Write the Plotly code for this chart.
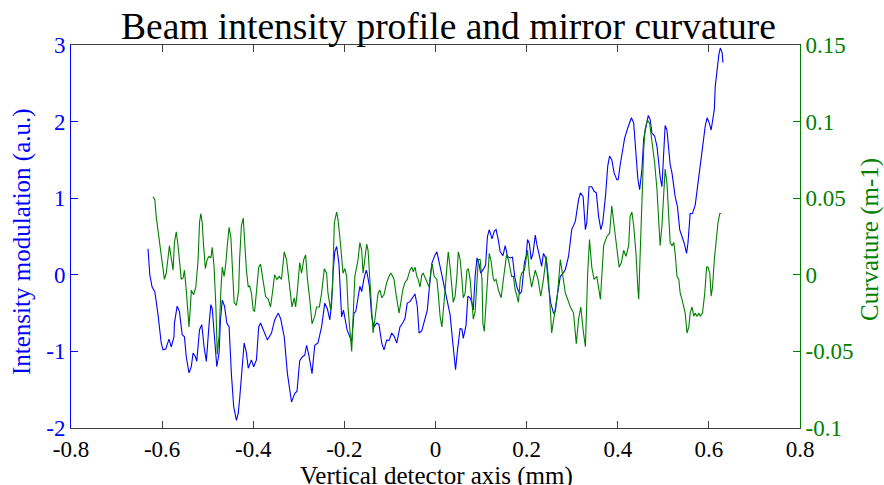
import plotly.graph_objects as go

# Blue series: intensity modulation (a.u.) vs vertical detector axis (mm)
blue_x = [-0.631,-0.627,-0.622,-0.616,-0.609,-0.602,-0.598,-0.592,-0.585,-0.580,-0.574,-0.573,-0.567,-0.562,-0.556,-0.551,-0.547,-0.541,-0.536,-0.532,
          -0.527,-0.524,-0.518,-0.513,-0.508,-0.503,-0.497,-0.493,-0.490,-0.485,-0.480,-0.475,-0.472,-0.468,-0.463,-0.458,-0.453,-0.448,-0.443,-0.437,
          -0.433,-0.430,-0.426,-0.420,-0.415,-0.411,-0.404,-0.399,-0.393,-0.388,-0.384,-0.376,-0.369,-0.360,-0.353,-0.345,-0.340,-0.332,-0.325,-0.316,
          -0.309,-0.304,-0.298,-0.292,-0.287,-0.283,-0.278,-0.271,-0.265,-0.258,-0.250,-0.243,-0.237,-0.232,-0.228,-0.225,-0.221,-0.217,-0.212,-0.209,
          -0.206,-0.202,-0.199,-0.194,-0.188,-0.184,-0.179,-0.175,-0.170,-0.166,-0.162,-0.157,-0.152,-0.150,-0.145,-0.140,-0.135,-0.129,-0.124,-0.118,
          -0.113,-0.107,-0.102,-0.096,-0.091,-0.085,-0.078,-0.072,-0.067,-0.062,-0.056,-0.050,-0.045,-0.040,-0.036,-0.030,-0.023,-0.018,-0.014,-0.008,
          -0.001,0.003,0.010,0.017,0.025,0.032,0.037,0.041,0.044,0.048,0.054,0.058,0.061,0.067,0.071,0.076,0.080,0.083,0.087,0.091,
          0.096,0.099,0.105,0.110,0.114,0.118,0.124,0.129,0.133,0.138,0.142,0.148,0.153,0.158,0.164,0.169,0.174,0.179,0.185,0.189,
          0.195,0.199,0.202,0.206,0.210,0.214,0.219,0.222,0.228,0.233,0.237,0.243,0.248,0.253,0.259,0.263,0.268,0.274,0.280,0.285,
          0.292,0.299,0.307,0.314,0.318,0.324,0.329,0.332,0.337,0.343,0.348,0.353,0.358,0.363,0.367,0.373,0.378,0.382,0.387,0.392,
          0.398,0.401,0.405,0.409,0.415,0.421,0.425,0.430,0.435,0.440,0.444,0.448,0.453,0.457,0.462,0.467,0.471,0.475,0.481,0.486,
          0.490,0.493,0.497,0.501,0.504,0.508,0.512,0.515,0.519,0.523,0.526,0.531,0.536,0.541,0.546,0.551,0.554,0.559,0.564,0.570,
          0.576,0.581,0.586,0.592,0.596,0.601,0.605,0.608,0.612,0.614,0.618,0.622,0.625,0.629,0.631]
blue_y = [0.34,0.00,-0.16,-0.22,-0.52,-0.89,-0.98,-0.97,-0.84,-0.94,-0.81,-0.63,-0.41,-0.48,-0.78,-0.81,-1.07,-1.28,-1.20,-1.02,
          -1.07,-1.13,-0.72,-0.65,-0.94,-1.13,-0.65,-0.39,-0.44,-0.81,-1.20,-1.02,-0.59,-0.33,-0.41,-0.63,-0.68,-1.29,-1.72,-1.90,
          -1.81,-1.63,-1.29,-0.89,-1.02,-1.22,-1.11,-1.20,-1.11,-0.68,-0.63,-0.76,-0.85,-0.76,-0.59,-0.50,-0.57,-0.81,-1.29,-1.66,
          -1.55,-1.52,-1.12,-1.07,-1.05,-0.92,-1.05,-1.29,-0.92,-0.89,-0.68,-0.37,-0.45,-0.59,-0.37,0.02,0.30,0.37,0.15,-0.20,
          -0.55,-0.46,-0.55,-0.72,-0.81,-0.87,-0.50,-0.48,-0.30,-0.15,-0.22,-0.05,0.06,0.02,-0.15,-0.55,-0.68,-0.63,-0.65,-0.89,
          -0.98,-0.85,-0.86,-0.76,-0.80,-0.89,-0.68,-0.63,-0.57,-0.37,-0.35,-0.30,-0.25,-0.41,-0.76,-0.73,-0.59,-0.46,-0.20,0.15,
          0.26,0.30,0.11,-0.09,-0.28,-0.52,-0.83,-1.11,-1.24,-1.00,-0.70,-0.71,-0.83,-0.66,-0.28,-0.30,-0.37,-0.46,-0.02,0.22,
          0.13,0.02,0.07,0.13,0.50,0.59,0.47,0.57,0.59,0.45,0.30,0.25,0.38,0.24,0.22,0.23,-0.03,-0.17,-0.25,-0.22,
          0.15,0.25,0.46,0.41,0.20,0.28,0.52,0.41,0.24,0.11,0.28,0.20,-0.15,-0.37,-0.50,-0.48,-0.24,-0.02,0.02,0.07,
          0.24,0.59,0.70,0.98,1.07,1.02,0.59,0.68,1.15,1.15,1.09,1.07,0.76,0.59,0.68,1.02,1.42,1.55,1.50,1.33,
          1.24,1.24,1.42,1.59,1.78,1.90,1.98,2.05,1.98,1.63,1.26,1.11,1.37,1.78,1.94,2.08,2.03,1.85,1.81,1.68,
          1.46,1.28,1.15,1.55,1.95,1.89,1.68,1.44,1.33,1.15,1.02,0.89,0.59,0.50,0.41,0.28,0.41,0.80,0.80,0.91,
          1.20,1.42,1.63,1.94,2.05,1.98,1.89,2.03,2.16,2.46,2.72,2.88,2.96,2.90,2.77]

# Green series: mirror curvature (m-1)
green_x = [-0.620,-0.616,-0.613,-0.608,-0.603,-0.598,-0.595,-0.591,-0.587,-0.584,-0.580,-0.576,-0.573,-0.569,-0.565,-0.562,-0.558,-0.554,-0.551,-0.547,
           -0.543,-0.541,-0.538,-0.536,-0.531,-0.526,-0.521,-0.518,-0.515,-0.512,-0.509,-0.505,-0.501,-0.497,-0.493,-0.490,-0.486,-0.482,-0.479,-0.475,
           -0.471,-0.468,-0.464,-0.460,-0.457,-0.453,-0.449,-0.446,-0.442,-0.437,-0.432,-0.430,-0.426,-0.422,-0.419,-0.415,-0.411,-0.408,-0.404,-0.400,
           -0.397,-0.393,-0.388,-0.384,-0.378,-0.373,-0.367,-0.362,-0.358,-0.353,-0.348,-0.343,-0.338,-0.332,-0.327,-0.324,-0.320,-0.315,-0.310,-0.307,
           -0.303,-0.298,-0.294,-0.289,-0.285,-0.281,-0.276,-0.271,-0.265,-0.261,-0.255,-0.250,-0.244,-0.239,-0.236,-0.230,-0.226,-0.222,-0.217,-0.214,
           -0.210,-0.206,-0.203,-0.199,-0.195,-0.192,-0.188,-0.184,-0.181,-0.177,-0.173,-0.170,-0.166,-0.162,-0.159,-0.155,-0.151,-0.148,-0.144,-0.140,
           -0.137,-0.133,-0.129,-0.126,-0.122,-0.118,-0.113,-0.107,-0.102,-0.098,-0.094,-0.091,-0.087,-0.083,-0.080,-0.076,-0.072,-0.067,-0.062,-0.056,
           -0.052,-0.049,-0.045,-0.041,-0.038,-0.034,-0.030,-0.027,-0.023,-0.018,-0.014,-0.010,-0.007,-0.003,0.003,0.006,0.010,0.014,0.017,0.021,
           0.025,0.028,0.032,0.036,0.039,0.043,0.047,0.050,0.054,0.058,0.061,0.065,0.069,0.072,0.076,0.080,0.083,0.087,0.091,0.094,
           0.098,0.102,0.104,0.107,0.110,0.114,0.118,0.122,0.126,0.129,0.133,0.138,0.144,0.149,0.153,0.156,0.160,0.164,0.167,0.171,
           0.175,0.178,0.182,0.186,0.189,0.195,0.202,0.206,0.211,0.219,0.225,0.231,0.237,0.243,0.248,0.255,0.261,0.268,0.274,0.280,
           0.285,0.290,0.296,0.303,0.309,0.314,0.319,0.324,0.329,0.334,0.338,0.343,0.348,0.354,0.362,0.369,0.376,0.382,0.387,0.392,
           0.398,0.403,0.408,0.413,0.418,0.424,0.427,0.431,0.435,0.440,0.444,0.446,0.449,0.453,0.457,0.460,0.465,0.470,0.475,0.481,
           0.486,0.490,0.493,0.497,0.501,0.504,0.508,0.512,0.515,0.519,0.523,0.526,0.530,0.534,0.537,0.541,0.545,0.548,0.552,0.556,
           0.559,0.563,0.567,0.570,0.574,0.578,0.581,0.586,0.591,0.595,0.598,0.602,0.605,0.608,0.612,0.616,0.620,0.624,0.627]
green_y = [0.051,0.049,0.038,0.027,0.014,0.005,-0.003,0.001,0.012,0.019,0.011,0.003,0.021,0.028,0.019,0.008,-0.003,-0.002,0.003,-0.010,
           -0.029,-0.034,-0.021,-0.010,-0.013,-0.008,0.010,0.034,0.040,0.034,0.019,0.004,0.010,0.012,0.011,0.018,0.005,-0.021,-0.052,-0.040,
           -0.010,0.005,-0.001,0.008,0.019,0.031,0.024,0.003,-0.018,-0.020,-0.010,0.010,0.032,0.037,0.019,0.003,-0.008,-0.007,-0.012,-0.023,
           -0.024,-0.010,0.005,0.007,-0.003,-0.014,-0.016,-0.021,-0.012,0.000,-0.003,-0.001,-0.003,0.015,0.010,0.003,-0.008,-0.021,-0.015,-0.021,
           -0.010,0.008,0.001,0.010,0.013,-0.003,-0.016,-0.032,-0.027,-0.021,-0.021,-0.012,0.004,0.001,-0.012,-0.023,-0.008,0.034,0.041,0.036,
           0.025,0.010,0.001,0.004,-0.001,-0.021,-0.038,-0.050,-0.029,-0.001,0.005,0.010,0.021,0.016,0.001,0.010,0.020,0.016,-0.003,-0.021,
           -0.038,-0.029,-0.021,-0.012,-0.010,-0.015,-0.013,-0.005,-0.001,0.001,-0.001,-0.003,-0.012,-0.018,-0.025,-0.018,-0.010,-0.005,-0.003,0.003,
           0.005,0.002,0.005,-0.001,-0.003,-0.008,0.000,0.001,-0.002,-0.006,-0.008,0.003,0.007,-0.001,-0.003,-0.012,-0.027,-0.034,-0.025,-0.010,
           0.005,0.015,0.005,-0.008,-0.018,-0.014,-0.001,0.015,0.010,-0.003,-0.015,-0.012,0.003,0.004,-0.003,-0.018,-0.029,-0.024,-0.003,0.010,
           0.010,-0.003,-0.032,-0.037,-0.023,-0.001,0.014,0.009,-0.001,-0.004,-0.003,-0.010,-0.015,-0.003,0.008,0.013,0.010,0.002,-0.001,-0.001,
           -0.010,-0.013,-0.018,-0.003,0.001,0.003,0.016,0.001,-0.008,0.003,-0.003,-0.014,-0.003,0.012,-0.003,-0.038,-0.027,-0.012,0.010,-0.003,
           -0.012,-0.016,-0.021,-0.025,-0.045,-0.029,-0.021,-0.036,-0.047,0.001,0.023,0.005,-0.003,-0.001,-0.016,0.019,0.025,0.027,0.045,0.032,
           0.015,0.005,0.008,0.016,0.012,0.019,0.038,0.041,0.032,0.014,-0.008,-0.016,0.012,0.051,0.082,0.095,0.101,0.099,0.088,0.073,
           0.056,0.032,0.019,0.032,0.056,0.069,0.060,0.038,0.021,0.019,0.021,0.014,-0.001,-0.003,-0.012,-0.016,-0.021,-0.025,-0.038,-0.034,
           -0.025,-0.021,-0.027,-0.025,-0.027,-0.025,-0.027,-0.025,-0.012,0.005,0.005,0.001,-0.014,-0.008,0.010,0.023,0.034,0.040,0.040]

x_ticks = [-0.8, -0.6, -0.4, -0.2, 0, 0.2, 0.4, 0.6, 0.8]
x_labels = ["-0.8", "-0.6", "-0.4", "-0.2", "0", "0.2", "0.4", "0.6", "0.8"]
y1_ticks = [-2, -1, 0, 1, 2, 3]
y1_labels = ["-2", "-1", "0", "1", "2", "3"]
y2_ticks = [-0.1, -0.05, 0, 0.05, 0.1, 0.15]
y2_labels = ["-0.1", "-0.05", "0", "0.05", "0.1", "0.15"]

BLUE = "#0000ff"
GREEN = "#008000"
AXC = "#404040"
FONT = "Liberation Serif"

fig = go.Figure()
fig.add_trace(go.Scatter(x=blue_x, y=blue_y, mode="lines", line=dict(color=BLUE, width=1.1),
                         yaxis="y", showlegend=False))
fig.add_trace(go.Scatter(x=green_x, y=green_y, mode="lines", line=dict(color=GREEN, width=1.1),
                         yaxis="y2", showlegend=False))

fig.update_layout(
    width=884, height=485,
    margin=dict(l=71, r=84, t=45, b=57, pad=0),
    paper_bgcolor="white", plot_bgcolor="white",
    font=dict(family=FONT, size=22, color="black"),
    xaxis=dict(range=[-0.8, 0.8], tickvals=x_ticks, ticktext=x_labels,
               ticks="inside", ticklen=7, tickcolor=AXC, showline=True, linecolor=AXC,
               linewidth=1, mirror="ticks", showgrid=False, zeroline=False,
               tickfont=dict(family=FONT, size=23, color="black")),
    yaxis=dict(range=[-2, 3], tickvals=y1_ticks, ticktext=y1_labels,
               ticks="inside", ticklen=7, tickcolor=BLUE, showline=True, linecolor=BLUE,
               linewidth=1, showgrid=False, zeroline=False,
               tickfont=dict(family=FONT, size=23, color=BLUE)),
    yaxis2=dict(range=[-0.1, 0.15], tickvals=y2_ticks, ticktext=y2_labels, overlaying="y",
                side="right", ticks="inside", ticklen=7, tickcolor=GREEN, showline=True,
                linecolor=GREEN, linewidth=1, showgrid=False, zeroline=False,
                tickfont=dict(family=FONT, size=23, color=GREEN)),
    annotations=[
        dict(text="Beam intensity profile and mirror curvature", xref="paper", yref="paper",
             x=(448 - 71) / 729, y=(428 - 26) / 383, xanchor="center", yanchor="middle",
             showarrow=False, font=dict(family=FONT, size=37.5, color="black")),
        dict(text="Intensity modulation (a.u.)", xref="paper", yref="paper",
             x=(22 - 71) / 729, y=(428 - 242) / 383, xanchor="center", yanchor="middle",
             textangle=-90, showarrow=False, font=dict(family=FONT, size=25, color=BLUE)),
        dict(text="Curvature (m-1)", xref="paper", yref="paper",
             x=(870 - 71) / 729, y=(428 - 240) / 383, xanchor="center", yanchor="middle",
             textangle=-90, showarrow=False, font=dict(family=FONT, size=25, color=GREEN)),
        dict(text="Vertical detector axis (mm)", xref="paper", yref="paper",
             x=(436 - 71) / 729, y=(428 - 476) / 383, xanchor="center", yanchor="middle",
             showarrow=False, font=dict(family=FONT, size=25, color="black")),
    ],
)

fig.write_html("out.html")
